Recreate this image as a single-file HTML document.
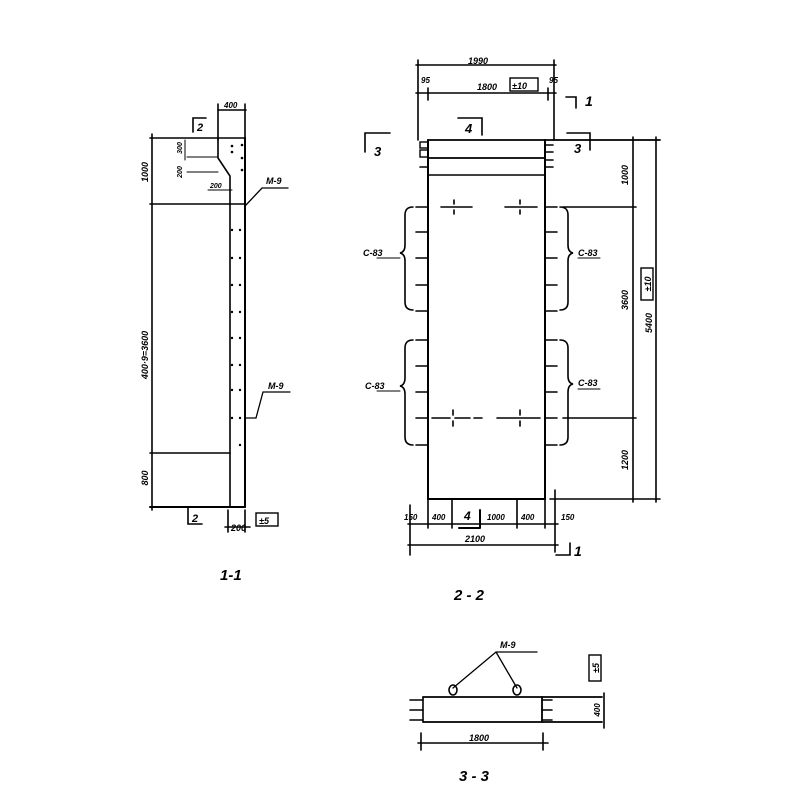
<!DOCTYPE html>
<html><head><meta charset="utf-8"><style>
html,body{margin:0;padding:0;background:#fff}
svg{display:block}
text{font-family:"Liberation Sans",sans-serif;font-style:italic;font-weight:bold;fill:#000}
</style></head><body>
<svg width="800" height="800" viewBox="0 0 800 800" xmlns="http://www.w3.org/2000/svg">
<g stroke="#000" stroke-width="1.6" fill="none" stroke-linecap="round">
<!-- ===== 1-1 ===== -->
<line x1="218" y1="110" x2="246" y2="110"/>
<line x1="218" y1="104" x2="218" y2="140"/>
<line x1="245" y1="104" x2="245" y2="140"/>
<line x1="150" y1="138" x2="245" y2="138"/>
<line x1="152" y1="134" x2="152" y2="510"/>
<path d="M218 138 L218 158 L230 176 L230 507"/>
<line x1="245" y1="138" x2="245" y2="507" stroke-width="2"/>
<line x1="150" y1="507" x2="245" y2="507" stroke-width="2"/>
<line x1="150" y1="204" x2="245" y2="204"/>
<line x1="150" y1="453" x2="230" y2="453"/>
<line x1="187" y1="157" x2="218" y2="157" stroke-width="1"/>
<line x1="187" y1="172" x2="218" y2="172" stroke-width="1"/>
<line x1="208" y1="190" x2="232" y2="190" stroke-width="1"/>
<line x1="185" y1="140" x2="185" y2="160" stroke-width="1"/>
<!-- section 2 marks -->
<path d="M193 132 L193 118 L206 118"/>
<path d="M188 508 L188 524 L202 524"/>
<!-- bottom dim 200 -->
<line x1="225" y1="527" x2="250" y2="527"/>
<line x1="228" y1="510" x2="228" y2="532"/>
<line x1="245" y1="510" x2="245" y2="532"/>
<rect x="256" y="513" width="22" height="13" stroke-width="1.4"/>
<!-- M-9 leaders -->
<path d="M246 205 L262 188 L288 188" stroke-width="1.3"/>
<path d="M246 418 L256 418 L263 392 L290 392" stroke-width="1.3"/>
</g>
<g fill="#000">
<circle cx="232" cy="146" r="1.3"/><circle cx="232" cy="152" r="1.3"/><circle cx="242" cy="145" r="1.3"/><circle cx="242" cy="158" r="1.3"/><circle cx="242" cy="170" r="1.3"/>
<circle cx="232" cy="230" r="1.2"/><circle cx="240" cy="230" r="1.2"/>
<circle cx="232" cy="258" r="1.2"/><circle cx="240" cy="258" r="1.2"/>
<circle cx="232" cy="285" r="1.2"/><circle cx="240" cy="285" r="1.2"/>
<circle cx="232" cy="312" r="1.2"/><circle cx="240" cy="312" r="1.2"/>
<circle cx="232" cy="338" r="1.2"/><circle cx="240" cy="338" r="1.2"/>
<circle cx="232" cy="365" r="1.2"/><circle cx="240" cy="365" r="1.2"/>
<circle cx="232" cy="390" r="1.2"/><circle cx="240" cy="390" r="1.2"/>
<circle cx="232" cy="418" r="1.2"/><circle cx="240" cy="418" r="1.2"/>
<circle cx="240" cy="445" r="1.2"/>
</g>
<text x="224" y="108" font-size="8">400</text>
<text x="197" y="131" font-size="11">2</text>
<text x="192" y="522" font-size="11">2</text>
<text x="231" y="531" font-size="9">200</text>
<text x="259" y="524" font-size="9">±5</text>
<text x="266" y="184" font-size="9">M-9</text>
<text x="268" y="389" font-size="9">M-9</text>
<text transform="translate(148,172) rotate(-90)" text-anchor="middle" font-size="9">1000</text>
<text transform="translate(148,355) rotate(-90)" text-anchor="middle" font-size="9">400·9=3600</text>
<text transform="translate(148,478) rotate(-90)" text-anchor="middle" font-size="9">800</text>
<text transform="translate(182,148) rotate(-90)" text-anchor="middle" font-size="7">300</text>
<text transform="translate(182,172) rotate(-90)" text-anchor="middle" font-size="7">200</text>
<text x="210" y="188" font-size="7">200</text>
<text x="220" y="580" font-size="15">1-1</text>

<!-- ===== 2-2 ===== -->
<g stroke="#000" stroke-width="1.6" fill="none" stroke-linecap="round">
<line x1="416" y1="65" x2="556" y2="65"/>
<line x1="416" y1="93" x2="556" y2="93"/>
<line x1="418" y1="60" x2="418" y2="140"/>
<line x1="554" y1="60" x2="554" y2="140"/>
<line x1="428" y1="88" x2="428" y2="100"/>
<line x1="548" y1="88" x2="548" y2="100"/>
<rect x="510" y="78" width="28" height="13" stroke-width="1.4"/>
<path d="M566 97 L576 97 L576 108"/>
<path d="M458 118 L482 118 L482 135"/>
<path d="M365 152 L365 133 L390 133"/>
<path d="M567 133 L590 133 L590 150"/>
<!-- panel -->
<line x1="428" y1="140" x2="660" y2="140" stroke-width="1.8"/>
<line x1="428" y1="158" x2="545" y2="158" stroke-width="1.8"/>
<line x1="428" y1="175" x2="545" y2="175" stroke-width="1.5"/>
<line x1="428" y1="140" x2="428" y2="499" stroke-width="2"/>
<line x1="545" y1="140" x2="545" y2="499" stroke-width="2"/>
<line x1="428" y1="499" x2="545" y2="499" stroke-width="2"/>
<rect x="420" y="142" width="8" height="6" stroke-width="1.4"/>
<rect x="420" y="150" width="8" height="7" stroke-width="1.4"/>
<line x1="545" y1="145" x2="553" y2="145"/><line x1="545" y1="152" x2="553" y2="152"/><line x1="545" y1="160" x2="553" y2="160"/>
<line x1="420" y1="167" x2="428" y2="167"/><line x1="545" y1="167" x2="553" y2="167"/>
<!-- ticks left -->
<path d="M416 207H428M416 232H428M416 258H428M416 285H428M416 311H428M416 340H428M416 366H428M416 392H428M416 418H428M416 445H428"/>
<path d="M545 207H557M545 232H557M545 258H557M545 285H557M545 311H557M545 340H557M545 366H557M545 392H557M545 418H557M545 445H557"/>
<!-- braces -->
<path d="M413 207 Q405 207 405 215 L405 245 Q405 252 400 253 Q405 254 405 261 L405 302 Q405 310 413 310"/>
<path d="M413 340 Q405 340 405 348 L405 378 Q405 385 400 386 Q405 387 405 394 L405 437 Q405 445 413 445"/>
<path d="M560 207 Q568 207 568 215 L568 245 Q568 252 573 253 Q568 254 568 261 L568 302 Q568 310 560 310"/>
<path d="M560 340 Q568 340 568 348 L568 376 Q568 383 573 384 Q568 385 568 392 L568 437 Q568 445 560 445"/>
<line x1="377" y1="258" x2="400" y2="258" stroke-width="1"/>
<line x1="377" y1="391" x2="400" y2="391" stroke-width="1"/>
<line x1="578" y1="258" x2="600" y2="258" stroke-width="1"/>
<line x1="578" y1="389" x2="600" y2="389" stroke-width="1"/>
<!-- crosshairs -->
<path d="M441 207H472M454 200V204M454 210V214"/>
<path d="M505 207H537M520 200V204M520 210V214"/>
<path d="M432 418H450M455 418H470M474 418H482M497 418H540M453 410V415M453 421V426M520 410V415M520 421V426"/>
<!-- right dims -->
<line x1="563" y1="207" x2="636" y2="207"/>
<line x1="563" y1="418" x2="636" y2="418"/>
<line x1="550" y1="499" x2="660" y2="499"/>
<line x1="633" y1="137" x2="633" y2="502"/>
<line x1="656" y1="137" x2="656" y2="502"/>
<rect x="641" y="268" width="12" height="32" stroke-width="1.4"/>
<!-- bottom dims -->
<line x1="408" y1="524" x2="558" y2="524"/>
<line x1="408" y1="545" x2="558" y2="545"/>
<line x1="410" y1="505" x2="410" y2="555"/>
<line x1="555" y1="490" x2="555" y2="552"/>
<line x1="452" y1="499" x2="452" y2="528"/>
<line x1="517" y1="499" x2="517" y2="528"/>
<line x1="428" y1="499" x2="428" y2="528"/>
<line x1="545" y1="499" x2="545" y2="528"/>
<path d="M459 528L480 528M480 510L480 528" stroke-width="2"/>
<path d="M556 555L570 555L570 543"/>
</g>
<text x="468" y="64" font-size="9">1990</text>
<text x="477" y="90" font-size="9">1800</text>
<text x="512" y="89" font-size="9">±10</text>
<text x="421" y="83" font-size="8">95</text>
<text x="549" y="83" font-size="8">95</text>
<text x="585" y="106" font-size="14">1</text>
<text x="465" y="133" font-size="13">4</text>
<text x="374" y="156" font-size="13">3</text>
<text x="574" y="153" font-size="13">3</text>
<text x="363" y="256" font-size="9">C-83</text>
<text x="365" y="389" font-size="9">C-83</text>
<text x="578" y="256" font-size="9">C-83</text>
<text x="578" y="386" font-size="9">C-83</text>
<text transform="translate(628,175) rotate(-90)" text-anchor="middle" font-size="9">1000</text>
<text transform="translate(628,300) rotate(-90)" text-anchor="middle" font-size="9">3600</text>
<text transform="translate(651,284) rotate(-90)" text-anchor="middle" font-size="9">±10</text>
<text transform="translate(652,323) rotate(-90)" text-anchor="middle" font-size="9">5400</text>
<text transform="translate(628,460) rotate(-90)" text-anchor="middle" font-size="9">1200</text>
<text x="404" y="520" font-size="8">150</text>
<text x="432" y="520" font-size="8">400</text>
<text x="464" y="520" font-size="12">4</text>
<text x="487" y="520" font-size="8">1000</text>
<text x="521" y="520" font-size="8">400</text>
<text x="561" y="520" font-size="8">150</text>
<text x="465" y="542" font-size="9">2100</text>
<text x="574" y="556" font-size="14">1</text>
<text x="454" y="600" font-size="15">2 - 2</text>

<!-- ===== 3-3 ===== -->
<g stroke="#000" stroke-width="1.6" fill="none" stroke-linecap="round">
<line x1="423" y1="697" x2="602" y2="697" stroke-width="1.8"/>
<line x1="423" y1="722" x2="602" y2="722" stroke-width="1.8"/>
<line x1="423" y1="697" x2="423" y2="722"/>
<line x1="542" y1="697" x2="542" y2="722" stroke-width="1.8"/>
<path d="M410 700H423M410 710H423M410 720H423"/>
<path d="M542 700H552M542 710H552M542 720H552"/>
<path d="M453 688 L496 652 L537 652 M496 652 L517 688" stroke-width="1.3"/>
<ellipse cx="453" cy="690" rx="4" ry="5"/>
<ellipse cx="517" cy="690" rx="4" ry="5"/>
<line x1="418" y1="743" x2="548" y2="743"/>
<line x1="421" y1="733" x2="421" y2="750"/>
<line x1="543" y1="733" x2="543" y2="750"/>
<line x1="604" y1="693" x2="604" y2="728"/>
<rect x="589" y="655" width="12" height="26" stroke-width="1.4"/>
</g>
<text x="500" y="648" font-size="9">M-9</text>
<text x="469" y="741" font-size="9">1800</text>
<text transform="translate(600,710) rotate(-90)" text-anchor="middle" font-size="8">400</text>
<text transform="translate(599,668) rotate(-90)" text-anchor="middle" font-size="9">±5</text>
<text x="459" y="781" font-size="15">3 - 3</text>
</svg>
</body></html>
